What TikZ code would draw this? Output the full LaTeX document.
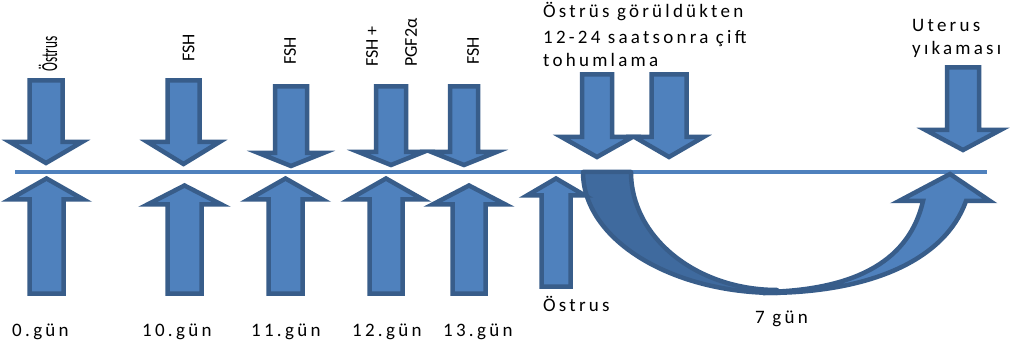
\documentclass[tikz,border=0pt]{standalone}
\usepackage{fontspec}
\setmainfont{Carlito}[LetterSpace=17]
\newfontfamily\tightfont{Carlito}
\definecolor{fillblue}{HTML}{4F81BD}
\definecolor{edgeblue}{HTML}{385D8A}
\definecolor{backblue}{HTML}{3F6A9E}
\newcommand\blockarr[6]{%
  \filldraw[blockarrow] ({#1-#2},#4) -- ({#1+#2},#4) -- ({#1+#2},#5) -- ({#1+#3},#5)
    -- (#1,#6) -- ({#1-#3},#5) -- ({#1-#2},#5) -- cycle;}
\tikzset{
  blockarrow/.style={fill=fillblue,draw=edgeblue,line width=4.5pt,line join=miter},
  vlabel/.style={rotate=90,anchor=west,inner sep=0pt,font=\tightfont\fontsize{18}{20}\selectfont},
  hlabel/.style={anchor=base west,inner sep=0pt,font=\fontsize{19}{22}\selectfont},
}
\begin{document}
\begin{tikzpicture}[x=1pt,y=-1pt]
\useasboundingbox[fill=white] (0,0) rectangle (1016,347);
% time line
\coordinate (lineL) at (15,172);
\coordinate (lineR) at (987,172);
\draw[fillblue,line width=4pt] (lineL) -- (lineR);
% curved arrow (7 days)
\filldraw[fill=backblue,draw=edgeblue,line width=4.5pt,line join=round]
  (583,172) .. controls (583,239) and (670,293) .. (777,293)
  -- (777,290) .. controls (696,290) and (631,237) .. (631,172) -- cycle;
\filldraw[fill=fillblue,draw=edgeblue,line width=4.5pt,line join=miter]
  (765,293) .. controls (870,293) and (945,260) .. (966,201)
  -- (990,201) -- (950,174) -- (899,201) -- (923,201)
  .. controls (910,258) and (860,290) .. (765,292) -- cycle;
% down arrows
\blockarr{46}{16.5}{36}{80.5}{142}{163}
\blockarr{183.5}{16}{36}{80.5}{142}{164}
\blockarr{291}{16}{32.5}{86.5}{153}{166}
\blockarr{391}{15}{32.5}{86.5}{152}{165}
\blockarr{464}{14}{32.5}{86.5}{152}{165}
\blockarr{597}{15}{35.5}{74.5}{137}{157}
\blockarr{669}{17.5}{34.5}{74.5}{137}{157}
\blockarr{963}{16}{37.5}{67.5}{130}{150}
% up arrows
\blockarr{46.5}{17}{37}{293.5}{199.5}{178.5}
\blockarr{184.5}{17}{37}{293.5}{204.5}{185.5}
\blockarr{285.5}{17}{37}{293.5}{199.5}{178.5}
\blockarr{386}{16.5}{37}{293.5}{199.5}{178.5}
\blockarr{469}{16.5}{36.5}{293.5}{204.5}{185.5}
\blockarr{556}{14.5}{29}{286.5}{195.5}{178.5}
% rotated labels
\node[vlabel] (l0) at (48,72) {\scalebox{0.58}[1]{\fontsize{23}{24}\selectfont Östrus}};
\node[vlabel] (l10) at (188.5,62) {FSH};
\node[vlabel] (l11) at (290,65) {FSH};
\node[vlabel] (l12a) at (372,67) {FSH +};
\node[vlabel] (l12b) at (411,67) {PGF2α};
\node[vlabel] (l13) at (473,65) {FSH};
% horizontal labels
\node[hlabel] (t1) at (543,18) {Östrüs görüldükten};
\node[hlabel] (t2) at (543,44) {12-24 saatsonra çift};
\node[hlabel] (t3) at (543,67) {tohumlama};
\node[hlabel] (u1) at (912,32) {Uterus};
\node[hlabel] (u2) at (912,55) {yıkaması};
\node[hlabel] (d0) at (12,336) {0.gün};
\node[hlabel] (d10) at (142,336) {10.gün};
\node[hlabel] (d11) at (251,336) {11.gün};
\node[hlabel] (d12) at (352,336) {12.gün};
\node[hlabel] (d13) at (443,336) {13.gün};
\node[hlabel] (os) at (543,311) {Östrus};
\node[hlabel] (g7) at (755,323) {7 gün};
\end{tikzpicture}
\end{document}
